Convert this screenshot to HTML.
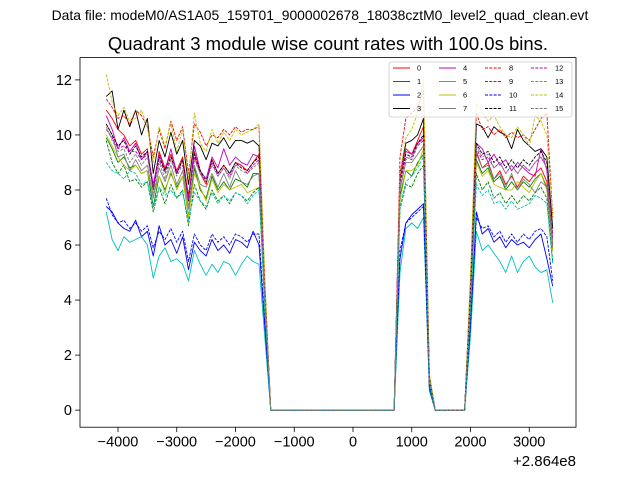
<!DOCTYPE html>
<html><head><meta charset="utf-8"><style>
body{margin:0;background:#fff;}
svg{display:block;font-family:"Liberation Sans",sans-serif;}
</style></head><body>
<svg id="chart" width="640" height="480" viewBox="0 0 640 480" xmlns="http://www.w3.org/2000/svg">
<rect width="640" height="480" fill="#fff"/>
<text x="320" y="20" font-size="13.9" text-anchor="middle">Data file: modeM0/AS1A05_159T01_9000002678_18038cztM0_level2_quad_clean.evt</text>
<text x="328" y="50" font-size="18.5" text-anchor="middle">Quadrant 3 module wise count rates with 100.0s bins.</text>
<g id="plot"></g>
<rect x="80" y="57.6" width="496" height="369.6" fill="none" stroke="#000" stroke-width="0.8"/>
<text x="576" y="466" font-size="15" text-anchor="end">+2.864e8</text>
<g id="legend"></g>
</svg>
<script>
const xStart = -4200, xStep = 100;
const xTicks = [-4000,-3000,-2000,-1000,0,1000,2000,3000];
const yTicks = [0,2,4,6,8,10,12];
const names = ['0','1','2','3','4','5','6','7','8','9','10','11','12','13','14','15'];
const Z22 = [0,0,0,0,0,0,0,0,0,0,0,0,0,0,0,0,0,0,0,0,0,0];
const Z6 = [0,0,0,0,0,0];
const s0 = [10.9,10.6,10.2,10.0,9.6,9.8,9.3,9.5,8.0,9.4,8.8,9.3,8.7,9.2,7.8,9.4,8.6,8.2,9.1,8.6,8.9,8.6,9.0,8.9,8.7,9.0,9.3, 4.2, ...Z22, 8.4,9.5,9.3,9.8,10.3, 1.1, ...Z6, 4.2, 9.4,8.8,9.0,8.4,8.7,8.2,8.5,8.1,8.5,8.3,8.6,8.8,8.3, 6.0];
const s1 = [9.9,9.5,9.0,9.2,8.8,8.9,8.6,8.7,7.4,8.5,8.0,8.6,8.1,8.5,7.0,8.8,8.0,7.7,8.5,8.0,8.3,8.0,8.4,8.3,8.1,8.6,8.6, 3.9, ...Z22, 7.8,8.7,8.5,9.0,9.3, 1.0, ...Z6, 3.9, 9.1,8.6,8.8,8.3,8.5,8.0,8.3,8.0,8.3,8.1,8.4,8.6,8.1, 5.8];
const s2 = [7.4,7.2,6.8,6.6,6.5,6.9,6.3,6.5,5.6,6.7,6.0,6.2,5.7,6.3,5.1,6.1,5.8,5.6,6.2,5.8,6.0,5.7,6.2,6.1,5.9,6.5,6.0, 3.0, ...Z22, 5.5,6.8,7.1,7.3,7.5, 0.8, ...Z6, 3.0, 7.2,6.4,6.6,6.1,6.3,5.9,6.2,6.0,6.1,5.9,6.2,6.4,5.5, 4.5];
const s3 = [11.4,11.6,10.2,10.9,10.3,10.9,10.0,10.6,8.6,9.8,9.2,10.1,9.3,9.8,8.2,9.8,9.6,9.1,9.7,9.6,9.9,9.5,9.8,9.8,9.7,9.8,9.6, 4.5, ...Z22, 8.6,9.7,9.8,10.0,10.6, 1.2, ...Z6, 4.6, 10.4,10.3,9.9,10.3,10.1,10.0,9.5,10.2,9.8,9.6,9.4,9.5,9.2, 6.6];
const s4 = [10.7,10.2,9.5,9.9,9.4,9.7,9.1,9.4,8.2,9.3,8.7,9.5,8.6,9.1,7.6,9.6,8.7,8.4,9.2,8.8,9.5,8.9,9.2,9.0,8.9,9.3,9.2, 4.3, ...Z22, 8.7,9.4,9.3,9.7,9.9, 1.1, ...Z6, 4.3, 9.7,9.5,9.0,9.3,8.9,9.1,8.7,9.0,8.8,8.6,8.5,9.5,8.7, 6.2];
const s5 = [7.2,6.2,5.8,6.3,6.1,6.2,6.3,6.0,4.8,5.6,5.9,5.4,5.5,5.3,4.7,5.8,5.3,4.9,5.3,5.0,5.4,5.3,4.9,5.3,5.6,5.4,5.3, 2.6, ...Z22, 5.0,6.6,6.8,6.6,7.0, 0.7, ...Z6, 2.7, 6.5,5.8,6.0,5.7,5.4,5.0,5.6,5.0,5.4,5.6,5.2,5.0,5.1, 3.9];
const s6 = [10.0,9.6,9.2,8.9,8.7,8.9,8.6,8.7,7.8,8.5,7.9,8.7,8.0,8.5,7.0,8.6,8.1,7.6,8.4,7.9,8.2,8.0,8.1,8.2,7.9,8.0,8.1, 3.8, ...Z22, 7.6,8.7,8.7,8.9,9.5, 1.0, ...Z6, 3.8, 9.0,8.5,8.7,8.2,8.1,8.0,8.0,8.3,8.1,7.9,8.3,8.6,8.0, 5.8];
const s7 = [10.4,10.0,9.2,9.3,8.7,9.1,8.7,8.9,7.7,8.8,8.3,8.9,8.2,8.7,7.3,8.9,8.2,8.1,8.6,8.1,8.6,8.1,8.7,8.3,8.2,8.5,8.6, 3.9, ...Z22, 8.0,9.0,9.0,9.3,9.6, 1.0, ...Z6, 4.0, 9.3,8.8,8.9,8.4,8.6,8.1,8.6,8.0,8.4,8.2,7.9,8.3,8.1, 5.9];
const s8 = [11.3,11.0,10.6,10.7,10.4,10.9,10.7,10.3,9.2,10.2,9.5,10.5,9.8,10.3,8.6,10.4,10.1,9.6,10.0,9.9,10.2,10.0,10.3,10.1,10.2,10.2,10.3, 4.6, ...Z22, 9.2,10.6,10.8,11.0,11.6, 1.3, ...Z6, 4.7, 10.8,10.2,10.3,10.0,10.2,9.9,10.1,9.9,10.0,9.8,10.2,10.6,10.8, 7.0];
const s9 = [9.8,9.0,8.6,8.9,8.3,8.4,8.1,8.3,7.2,8.1,7.5,8.2,7.7,8.0,6.7,8.2,7.6,7.3,8.0,7.6,7.8,7.5,7.9,7.8,7.6,7.9,8.1, 3.6, ...Z22, 7.3,8.2,8.1,8.6,8.9, 0.9, ...Z6, 3.6, 8.6,8.0,8.3,7.7,7.9,7.5,7.8,7.5,7.8,7.6,7.9,8.1,7.7, 5.4];
const s10 = [7.7,7.1,6.8,6.9,6.6,6.8,6.5,6.7,5.9,6.5,6.2,6.6,6.1,6.5,5.4,6.4,6.0,5.8,6.4,6.1,6.3,6.0,6.4,6.3,6.1,6.4,6.4, 3.1, ...Z22, 5.8,6.8,7.0,7.2,7.4, 0.8, ...Z6, 3.1, 7.0,6.6,6.7,6.3,6.5,6.1,6.4,6.1,6.4,6.2,6.5,6.6,6.3, 4.7];
const s11 = [10.4,10.0,9.6,9.8,9.3,9.6,9.2,9.4,8.0,9.2,8.7,9.2,8.6,9.1,7.6,9.3,8.7,8.3,9.1,8.6,8.9,8.6,9.0,8.8,8.7,9.0,9.2, 4.1, ...Z22, 8.3,9.3,9.2,9.7,10.0, 1.1, ...Z6, 4.2, 9.7,9.3,9.4,9.0,9.2,8.8,9.1,8.8,9.1,8.9,9.2,9.4,9.0, 6.4];
const s12 = [10.2,9.9,9.5,9.6,9.4,9.4,9.1,9.3,8.1,9.1,8.6,9.1,8.7,8.9,7.7,9.2,8.6,8.4,9.0,8.5,8.8,8.5,8.9,8.9,8.6,8.9,9.1, 4.1, ...Z22, 8.2,9.2,9.1,9.6,9.8, 1.1, ...Z6, 4.1, 9.5,9.1,9.2,8.8,9.0,8.6,8.9,8.6,8.9,8.7,9.0,9.2,8.8, 6.3];
const s13 = [9.0,8.7,8.6,8.4,8.7,8.6,8.2,8.3,7.4,8.1,7.8,8.0,7.7,7.9,6.9,7.9,7.6,7.4,7.9,7.5,7.8,7.6,7.9,7.8,7.5,7.8,8.0, 3.7, ...Z22, 7.4,8.3,8.5,8.8,9.2, 1.0, ...Z6, 3.6, 8.2,7.8,8.0,7.5,7.6,7.3,7.6,7.3,7.4,7.5,7.8,7.7,7.5, 5.3];
const s14 = [12.2,11.2,10.7,11.0,10.5,10.6,10.9,10.3,9.0,10.3,9.6,10.4,9.4,10.2,8.4,10.8,9.7,9.4,10.2,9.7,10.1,9.8,10.2,10.0,10.1,10.2,10.4, 4.7, ...Z22, 8.6,9.9,10.2,10.8,12.0, 1.3, ...Z6, 4.9, 11.2,10.8,10.5,10.7,10.3,10.0,9.9,10.3,10.0,9.6,10.7,10.5,10.0, 7.0];
const s15 = [10.3,9.8,9.4,9.5,9.0,9.3,8.9,9.2,7.9,9.0,8.4,9.1,8.5,8.9,7.4,9.1,8.6,8.3,8.9,8.5,8.8,8.4,8.9,8.7,8.6,8.8,9.0, 4.0, ...Z22, 8.1,9.1,9.2,9.6,9.9, 1.1, ...Z6, 4.1, 9.6,9.2,9.3,8.8,9.0,8.6,8.9,8.6,8.9,8.7,9.0,9.2,8.8, 6.2];
const series = [s0,s1,s2,s3,s4,s5,s6,s7,s8,s9,s10,s11,s12,s13,s14,s15];

const colors = ['#ff0000','#008000','#0000ff','#000000','#bf00bf','#00bfbf','#bfbf00','#808080'];
const NS = 'http://www.w3.org/2000/svg';
const L=80,R=576,T=57.6,B=427.2, xMin=-4647, xMax=3796, yMin=-0.62, yMax=12.81;
const xs = v => L + (v-xMin)/(xMax-xMin)*(R-L);
const ys = v => B - (v-yMin)/(yMax-yMin)*(B-T);
function mk(tag, attrs, parent){const e=document.createElementNS(NS,tag);for(const k in attrs)e.setAttribute(k,attrs[k]);parent.appendChild(e);return e;}
const plot=document.getElementById('plot');
xTicks.forEach(t=>{
  const x=xs(t);
  const ln=mk('line',{x1:x,x2:x,y1:B,y2:B+4.9,stroke:'#000','stroke-width':0.8},plot);
  
  
  const tx=mk('text',{x:x,y:B+19.5,'font-size':14.5,'text-anchor':'middle'},plot);
  
  
  tx.textContent=String(t).replace('-','\u2212');
});
yTicks.forEach(t=>{
  const y=ys(t);
  const ln=mk('line',{x1:L-4.9,x2:L,y1:y,y2:y,stroke:'#000','stroke-width':0.8},plot);
  
  
  const tx=mk('text',{x:L-8,y:y+5,'font-size':14.5,'text-anchor':'end'},plot);
  
  
  tx.textContent=String(t);
});
series.forEach((s,i)=>{
  const pts=s.map((v,j)=>xs(xStart+j*xStep).toFixed(2)+','+ys(v).toFixed(2)).join(' ');
  const a={points:pts,fill:'none',stroke:colors[i%8],'stroke-width':0.9,'stroke-linejoin':'round'};
  if(i>=8)a['stroke-dasharray']='3,1.3';
  const p=mk('polyline',a,plot);
  
  
});
const lg=document.getElementById('legend');
const box=mk('rect',{x:389,y:62,width:183,height:55,rx:2,fill:'#fff','fill-opacity':0.8,stroke:'#ccc','stroke-width':0.8},lg);


const colX=[393,439,485,531], rowY=[68,81.5,95,108.5];
names.forEach((n,i)=>{
  const c=Math.floor(i/4), r=i%4;
  const a={x1:colX[c],x2:colX[c]+17,y1:rowY[r],y2:rowY[r],stroke:colors[i%8],'stroke-width':0.9};
  if(i>=8)a['stroke-dasharray']='3,1.3';
  const ln=mk('line',a,lg);
  
  
  const tx=mk('text',{x:colX[c]+24,y:rowY[r]+2.5,'font-size':7.5},lg);
  
  
  tx.textContent=n;
});
</script>
</body></html>
